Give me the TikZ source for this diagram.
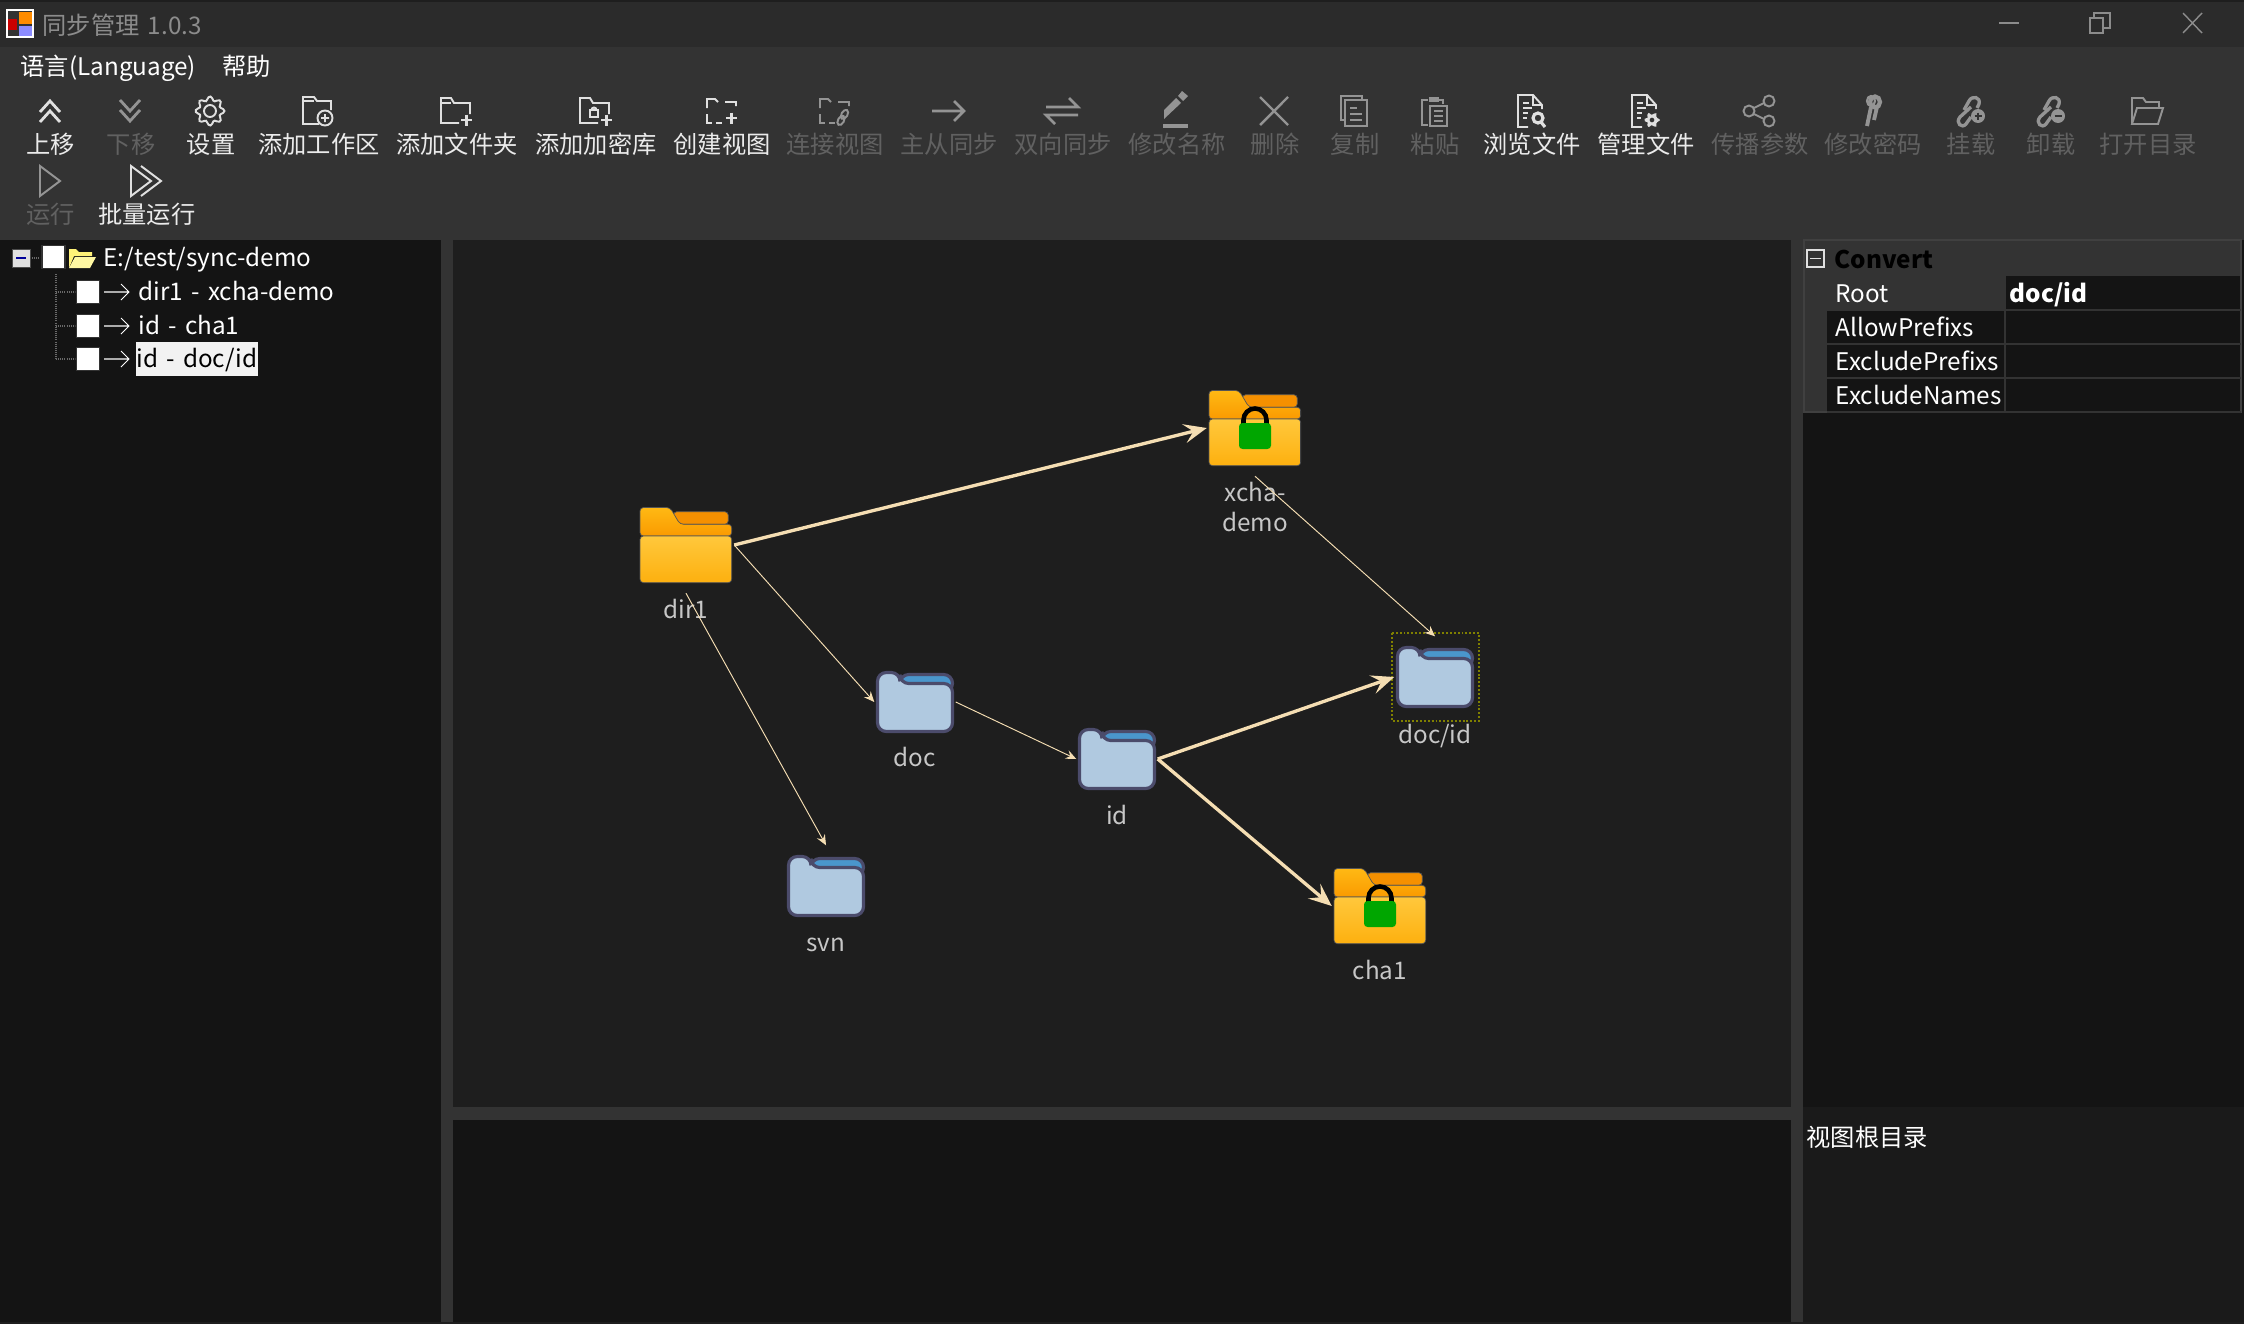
\documentclass[tikz,border=0pt]{standalone}
\usepackage{fontspec}
\setmainfont[WordSpace=1.5]{Noto Sans CJK SC}
\usetikzlibrary{arrows.meta}
\definecolor{titlebg}{HTML}{2B2B2B}
\definecolor{toolbg}{HTML}{333333}
\definecolor{treebg}{HTML}{141414}
\definecolor{graphbg}{HTML}{1E1E1E}
\definecolor{notebg}{HTML}{1A1A1A}
\definecolor{flow}{HTML}{F5DEB3}
\definecolor{dirline}{HTML}{4B4B6B}
\definecolor{dirfill}{HTML}{B0C9E0}
\definecolor{dirtab}{HTML}{4A96CC}
\definecolor{amberback}{HTML}{F59000}
\definecolor{ambertop}{HTML}{FFB914}
\definecolor{amberlow}{HTML}{FA9A00}
\definecolor{frontup}{HTML}{FFC83C}
\definecolor{frontlow}{HTML}{FDB00F}
\definecolor{amberedge}{HTML}{555555}
\definecolor{seldot}{HTML}{808000}
\definecolor{treedot}{HTML}{6A6A6A}
\newcommand{\uifont}{\fontsize{6.9}{8.8}\selectfont}
\tikzset{
    uitext/.style={inner sep=0pt,font=\uifont,text=#1},
    uitext/.default=white,
    tbon/.style={color=white!88!black,line width=.55pt,text=white!92!black},
    tboff/.style={color=white!58!black,line width=.55pt,text=white!38!black},
    treeline/.style={treedot,line width=.3pt,dash pattern=on .3pt off .3pt},
    foldernode/.style={minimum size=.8cm,inner sep=0pt},
    largenode/.style={minimum size=.95cm,inner sep=0pt},
    checkbox/.style={fill=white,draw=black!80,line width=.5pt,minimum width=.23cm,minimum height=.23cm,inner sep=0pt},
    thinflow/.style={flow,line width=.27pt,-{Stealth[length=3pt,width=2.6pt,inset=1.1pt]}},
    wideflow/.style={flow,line width=.95pt,-{Stealth[length=6.5pt,width=5.4pt,inset=2.6pt]}},
    pics/tbup/.style={code={
        \draw[line width=.8pt] (-10,1)--(0,-10)--(10,1) (-10,11)--(0,0)--(10,11);}},
    pics/tbdown/.style={code={
        \draw[line width=.8pt] (-10,-11)--(0,0)--(10,-11) (-10,-1)--(0,10)--(10,-1);}},
    pics/tbgear/.style={code={
        \draw plot[smooth cycle,domain=0:352,samples=45,variable=\t] (\t:{12.5+2*cos(8*\t)});
        \draw (0,0) circle[radius=6];}},
    pics/tbworkspace/.style={code={
        \draw (1,13)--(-15,13)--(-15,-14)--(-4,-14)--(-1,-10)--(13,-10)--(13,-1);
        \draw (-15,-10)--(-4,-10);
        \draw (7,7) circle[radius=7.5] (3,7)--(11,7) (7,3)--(7,11);}},
    pics/tbfolder/.style={code={
        \draw (3,12)--(-15,12)--(-15,-13)--(-5,-13)--(-2,-8)--(14,-8)--(14,3);
        \draw (-15,-8)--(-5,-8);
        \draw[line width=.7pt] (5,9)--(16,9) (10.5,3.5)--(10.5,14.5);}},
    pics/tbvault/.style={code={
        \draw (3,12)--(-15,12)--(-15,-13)--(-5,-13)--(-2,-8)--(14,-8)--(14,3);
        \draw (-5,-1) rectangle (3,6) (-3.5,-1) arc(180:360:2.5);
        \draw[line width=.7pt] (6,9)--(17,9) (11.5,3.5)--(11.5,14.5);}},
    pics/tbview/.style={code={
        \draw (-14,-3)--(-14,-12)--(-6,-12)--(-3,-9) (4,-9)--(15,-9)--(15,-5);
        \draw (-14,3)--(-14,12)--(-9,12) (-5,12)--(1,12);
        \draw[line width=.7pt] (5,7)--(16,7) (10.5,1.5)--(10.5,12.5);}},
    pics/tblink/.style={code={
        \draw (-14,-3)--(-14,-12)--(-6,-12)--(-3,-9) (4,-9)--(15,-9)--(15,-5);
        \draw (-14,3)--(-14,12)--(-9,12) (-5,12)--(1,12);
        \draw[rotate around={-30:(9,6)}] (9,3) ellipse[x radius=3,y radius=5] (9,10) ellipse[x radius=3,y radius=5];}},
    pics/tbarrow/.style={code={
        \draw[line width=.75pt] (-16,0)--(16,0) (6,-10)--(16,0)--(6,10);}},
    pics/tbboth/.style={code={
        \draw[line width=.75pt] (-16,-4)--(16,-4)--(7,-13) (16,4)--(-16,4)--(-7,13);}},
    pics/tbpen/.style={code={
        \fill (-12,8)--(-12,-1)--(0,-13)--(5,-8)--cycle (2,-15)--(6,-20)--(12,-15)--(7,-10)--cycle;
        \draw[line width=.9pt] (-13,15)--(12,15);}},
    pics/tbcross/.style={code={
        \draw[line width=.7pt] (-14,-14)--(14,14) (14,-14)--(-14,14);}},
    pics/tbcopy/.style={code={
        \draw (-9,9)--(-13,9)--(-13,-15)--(8,-15)--(8,-11);
        \draw (-9,-11) rectangle (13,15);
        \draw (-4,-3)--(3,-3) (-4,3)--(8,3) (-4,9)--(8,9);}},
    pics/tbpaste/.style={code={
        \draw (-6,14)--(-12,14)--(-12,-11)--(-6,-11) (5,-11)--(9,-11)--(9,-7);
        \fill (-5,-9) rectangle (5,-14);
        \draw (-4,-5) rectangle (13,15);
        \draw (0,0)--(9,0) (0,5)--(9,5) (0,10)--(9,10);}},
    pics/tbbrowse/.style={code={
        \draw (-3,16)--(-13,16)--(-13,-16)--(2,-16)--(11,-6)--(11,-2) (2,-16)--(2,-6)--(11,-6);
        \draw (-8,-8)--(-2,-8) (-8,-3)--(1,-3) (-8,2)--(-3,2) (-8,7)--(-4,7);
        \draw[line width=.9pt] (7,7) circle[radius=5] (10,11)--(14,16);}},
    pics/tbmanage/.style={code={
        \draw (-3,16)--(-13,16)--(-13,-16)--(2,-16)--(11,-6)--(11,-2) (2,-16)--(2,-6)--(11,-6);
        \draw (-8,-8)--(-2,-8) (-8,-3)--(1,-3) (-8,2)--(-3,2) (-8,7)--(-4,7);
        \fill[even odd rule] plot[smooth cycle,domain=0:340,samples=19,variable=\t] ({7+(6.5+1.6*cos(6*\t))*cos(\t)},{9+(6.5+1.6*cos(6*\t))*sin(\t)}) (7,9) circle[radius=2.5];}},
    pics/tbshare/.style={code={
        \draw (10,-10) circle[radius=5.5] (10,10) circle[radius=5.5] (-10,0) circle[radius=5.5];
        \draw (-5,-3)--(5,-8) (-5,3)--(5,8);}},
    pics/tbkeys/.style={code={
        \draw[line width=1.2pt] (3,-9) ellipse[x radius=5,y radius=5.5];
        \draw[line width=.6pt] (-1,-10) ellipse[x radius=4,y radius=5];
        \draw[line width=1.1pt] (-1,-4)--(-5,15) (5,-4)--(2,9);}},
    pics/tbchain/.style={code={
        \draw[line width=.95pt] (-6,-1)--(-1,-10) .. controls (2,-16) and (11,-14) .. (9,-7)--(7,-3);
        \draw[line width=.95pt] (1,-4)--(-10,6) .. controls (-15,12) and (-8,18) .. (-4,13)--(1,6);}},
    pics/tbmount/.style={code={
        \pic {tbchain};
        \fill (8,5) circle[radius=7];
        \draw[toolbg,line width=.5pt] (4.5,5)--(11.5,5) (8,1.5)--(8,8.5);}},
    pics/tbunmount/.style={code={
        \pic {tbchain};
        \fill (8,5) circle[radius=7];
        \draw[toolbg,line width=.5pt] (4.5,5)--(11.5,5);}},
    pics/tbopen/.style={code={
        \draw (-15,13)--(-15,-13)--(-4,-13)--(-1,-9)--(12,-9)--(12,-3);
        \draw (-15,13)--(-10,-3)--(16,-3)--(11,13)--cycle;}},
    pics/tbrun/.style={code={
        \draw (-10,-15)--(10,0)--(-10,15)--cycle;}},
    pics/tbbatch/.style={code={
        \draw (-15,-15)--(5,0)--(-15,15)--cycle (-5,-15)--(15,0)--(-5,15);}},
    pics/yellowdir/.style={code={
        \draw[rounded corners=1,fill=amberback,draw=amberedge,line width=.2pt] (-12.7,-20.7)--(-12.7,-33.3)--(42.3,-33.3)--(42.3,-20.7)--cycle;
        \shade[rounded corners=1,top color=ambertop,bottom color=amberlow,draw=amberedge,line width=.2pt] (-46,-9)--(-46,-37.5)--(-16,-37.5)--(-6,-20.7)--(45.7,-20.7)--(45.7,-9)--cycle;
        \shade[rounded corners=1,top color=frontup,bottom color=frontlow,draw=amberedge,line width=.2pt] (-46,37.7)--(-46,-9)--(45.7,-9)--(45.7,37.7)--cycle;}},
    pics/lockdir/.style={code={
        \pic {yellowdir};
        \draw[black,line width=1.3pt] (-11.5,-3)--(-11.5,-8) arc(180:360:11.5)--(11.5,-3);
        \fill[green!65!black,rounded corners=1] (-16,-5) rectangle (16,21);}},
    pics/bluedir/.style={code={
        \draw[fill=dirtab,draw=dirline,line width=.9pt,rounded corners=2.5] (-15,-27.5)--(37.5,-27.5)--(37.5,-10)--(-15,-10)--cycle;
        \draw[fill=dirfill,draw=dirline,line width=.9pt,rounded corners=2.5] (-37.5,29.5)--(-37.5,-29.5)--(-15,-29.5)--(-15,-18.5)--(37.5,-18.5)--(37.5,29.5)--cycle;}}
}
\begin{document}
\begin{tikzpicture}[x=.01cm,y=-.01cm]
    \useasboundingbox (0,0) rectangle (2244,1324);
    % window parts
    \fill[toolbg] (0,0) rectangle (2244,1324);
    \fill[titlebg] (0,0) rectangle (2244,47);
    \fill[graphbg] (0,0) rectangle (2244,2);
    \fill[treebg] (0,240) rectangle (441,1324);
    \fill[graphbg] (453,240) rectangle (1791,1107);
    \fill[treebg] (453,1120) rectangle (1791,1324);
    \fill[treebg] (1803,240) rectangle (2244,1107);
    \fill[notebg] (1803,1107) rectangle (2244,1324);
    \fill[graphbg] (0,1322) rectangle (2244,1324);

    % title bar
    \draw[white,fill=black!80,line width=.3pt] (7,10) rectangle (33,37);
    \fill[orange!90!yellow] (19,12) rectangle (32,24);
    \fill[red!80!black] (8,19) rectangle (17,30);
    \fill[blue!45!white] (19,26) rectangle (32,36);
    \node[uitext=white!55!black,anchor=mid west] (apptitle) at (42,25) {同步管理 1.0.3};
    \draw[white!55!black,line width=.4pt] (1999,23)--(2019,23);
    \draw[white!55!black,line width=.4pt] (2090,18) rectangle (2103,33) (2094,18)--(2094,13)--(2110,13)--(2110,28)--(2103,28);
    \draw[white!55!black,line width=.4pt] (2183,13)--(2202,33) (2202,13)--(2183,33);
    \node[uitext,anchor=mid west] (menulang) at (20,66) {语言(Language)};
    \node[uitext,anchor=mid west] (menuhelp) at (222,66) {帮助};

    % toolbar
    \foreach \x/\y/\ic/\lb/\st in {50/111/tbup/上移/tbon,130/111/tbdown/下移/tboff,210/111/tbgear/设置/tbon,%
    318/111/tbworkspace/添加工作区/tbon,456/111/tbfolder/添加文件夹/tbon,595/111/tbvault/添加加密库/tbon,%
    721/111/tbview/创建视图/tbon,834/111/tblink/连接视图/tboff,948/111/tbarrow/主从同步/tboff,%
    1062/111/tbboth/双向同步/tboff,1176/111/tbpen/修改名称/tboff,1274/111/tbcross/删除/tboff,%
    1354/111/tbcopy/复制/tboff,1434/111/tbpaste/粘贴/tboff,1531/111/tbbrowse/浏览文件/tbon,%
    1645/111/tbmanage/管理文件/tbon,1759/111/tbshare/传播参数/tboff,1872/111/tbkeys/修改密码/tboff,%
    1970/111/tbmount/挂载/tboff,2050/111/tbunmount/卸载/tboff,2147/111/tbopen/打开目录/tboff,%
    50/181/tbrun/运行/tboff,146/181/tbbatch/批量运行/tbon}
    {
    \pic[\st] at (\x,\y) {\ic};
    \node[uitext=.,\st,anchor=mid] (lb\x\y) at ({\x+1},{\y+33}) {\lb};
    }

    % tree
    \draw[treeline] (30,258)--(42,258) (56,274)--(56,359);
    \draw[fill=white!88!black,draw=black!70,line width=.2pt] (12,249) rectangle (30,267);
    \draw[blue!60!black,line width=.5pt] (16,258)--(26,258);
    \node[checkbox] (rootcheck) at (53.5,257) {};
    \fill[yellow!50!white!95!orange] (69,268)--(69,249)--(76,249)--(79,252)--(92,252)--(92,256)--(74,256)--cycle;
    \fill[yellow!35!white!98!orange] (69,268)--(75,257)--(96,257)--(90,268)--cycle;
    \node[uitext,anchor=mid west] (rootname) at (103,257) {E:/test/sync-demo};
    \foreach \y/\lb/\n in {292/dir1 - xcha-demo/0,326/id - cha1/1}
    {
    \draw[treeline] (56,\y)--(75,\y);
    \node[checkbox] (check\n) at (88,\y) {};
    \draw[white,line width=.3pt] (104,\y)--(129,\y) (121,{\y-8})--(129,\y)--(121,{\y+8});
    \node[uitext,anchor=mid west] (item\n) at (138,{\y-1}) {\lb};
    }
    \draw[treeline] (56,359)--(75,359);
    \node[checkbox] (check2) at (88,359) {};
    \draw[white,line width=.3pt] (104,359)--(129,359) (121,351)--(129,359)--(121,367);
    \node[fill=white!95!black,text=black,font=\uifont,inner sep=0pt,text height=7.3pt,text depth=2.37pt,minimum width=1.22cm] (item2) at (197,359) {id - doc/id};

    % graph
    \foreach \n/\x/\y/\st/\pc/\ly/\lb in {dir1/686/545/largenode/yellowdir/608.5/dir1,xcha/1255/428/largenode/lockdir/507/{xcha-\\demo},%
    doc/915/702/foldernode/bluedir/757/doc,id/1117/759/foldernode/bluedir/815/id,docid/1435/677/foldernode/bluedir/736/doc\slash id,%
    svn/826/886/foldernode/bluedir/944.5/svn,cha1/1380/906/largenode/lockdir/970/cha1}
    {
    \node[\st] (\n) at (\x,\y) {};
    \pic at (\n) {\pc};
    \node[uitext=white!78!black,align=center] (\n lb) at (\x,\ly) {\lb};
    }
    \draw[seldot,line width=.55pt,dash pattern=on .55pt off .55pt] (docid.center) +(-43,-44) rectangle +(44,44);
    \draw[wideflow] (dir1.east) -- (xcha.west);
    \draw[thinflow] (dir1.east) -- (doc.west);
    \draw[thinflow] (dir1.south) -- (svn.north);
    \draw[thinflow] (doc.east) -- (id.west);
    \draw[thinflow] (xcha.south) -- (docid.north);
    \draw[wideflow] (id.east) -- (docid.west);
    \draw[wideflow] (id.east) -- (cha1.west);

    % properties
    \fill[toolbg] (1804,240) rectangle (2241,412);
    \fill[treebg] (2005,276) rectangle (2241,411);
    \fill[treebg] (1827,310) rectangle (2005,411);
    \draw[black!75,line width=.3pt] (1804,240) rectangle (2241,412);
    \draw[white!88!black,line width=.3pt] (1807,250) rectangle (1824,267) (1810,258.5)--(1821,258.5);
    \node[uitext=black,anchor=mid west,font=\uifont\bfseries] (groupname) at (1834,258.5) {Convert};
    \foreach \y/\lb in {293/Root,327/AllowPrefixs,361/ExcludePrefixs,395/ExcludeNames}
    {
    \node[uitext,anchor=mid west] (prop\y) at (1835,\y) {\lb};
    \draw[toolbg,line width=.3pt] (1827,{\y+17})--(2241,{\y+17});
    }
    \draw[toolbg,line width=.3pt] (2005,276)--(2005,411);
    \node[uitext,anchor=mid west,font=\uifont\bfseries] (rootvalue) at (2009,293) {doc/id};
    \node[uitext,anchor=mid west] (viewroot) at (1806,1137) {视图根目录};
\end{tikzpicture}
\end{document}
